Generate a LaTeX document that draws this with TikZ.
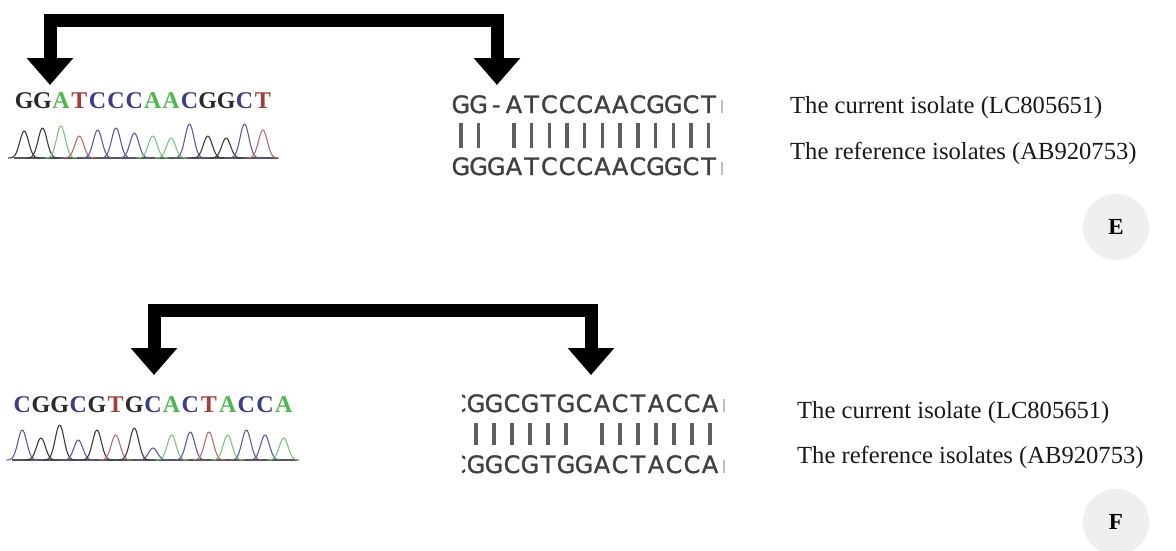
\documentclass[tikz,border=0pt]{standalone}
\usepackage{fontspec}
\setmainfont{Liberation Serif}
\newfontfamily\alnfont[AutoFakeBold=1.2]{DejaVu Sans}
\usetikzlibrary{arrows.meta}

% base-call colours (letters) and trace colours
\definecolor{colG}{HTML}{2A2A2A}
\definecolor{colA}{HTML}{4DB84D}
\definecolor{colT}{HTML}{A63A3A}
\definecolor{colC}{HTML}{3C3C8A}
\definecolor{trG}{HTML}{3A3A3A}
\definecolor{trA}{HTML}{78C878}
\definecolor{trT}{HTML}{C06868}
\definecolor{trC}{HTML}{5A5AA8}
\definecolor{alnink}{HTML}{404040}
\definecolor{barink}{HTML}{5E5E5E}
\definecolor{tagfill}{HTML}{EFEFEF}

\tikzset{
  bracket/.style={line width=13pt, line join=miter,
    {Triangle[width=45pt,length=27pt]}-{Triangle[width=45pt,length=27pt]}},
  chromlet/.style={anchor=base, inner sep=0pt, font=\fontsize{24}{24}\selectfont\bfseries},
  trace/.style={line width=1.1pt, line join=round},
  chromaxis/.style={line width=1.6pt, draw=colG!80},
  alnlet/.style={anchor=base, inner sep=0pt, text=alnink, font=\alnfont\fontsize{24}{24}\selectfont\bfseries},
  matchbar/.style={line width=3.4pt, draw=barink},
  stub/.style={line width=2pt, draw=black!25},
  caption/.style={anchor=base west, inner sep=0pt, text=black!90, font=\fontsize{24.6}{24.6}\selectfont},
  tag/.style={circle, fill=tagfill, minimum size=66pt, inner sep=0pt,
    font=\fontsize{23}{23}\selectfont\bfseries}
}

\begin{document}
\begin{tikzpicture}[x=1pt, y=-1pt]
\useasboundingbox (0,0) rectangle (1176,550);

% ---------------- panel E ----------------
% chromatogram base calls
\foreach \b [count=\i from 0] in {G,G,A,T,C,C,C,A,A,C,G,G,C,T}
  \node[chromlet, text=col\b] (cE\i) at ({24.2+18.36*\i},108) {\b};
% chromatogram traces
\draw[chromaxis] (14,158) -- (278,158);
\foreach \b/\h [count=\i from 0] in {G/27,G/30,A/32,T/22,C/28,C/30,C/25,A/22,A/20,C/34,G/22,G/20,C/34,T/28}
  \draw[trace, draw=tr\b] plot[domain=-16:16, samples=33, smooth]
    ({24.2+18.36*\i+\x}, {158-\h*exp(-1*((\x)/6.2)*((\x)/6.2))});

% pairwise alignment
\foreach \b [count=\i from 0] in {G,G,-,A,T,C,C,C,A,A,C,G,G,C,T}
  \node[alnlet] (aEq\i) at ({460.85+17.7*\i},113) {\b};
\foreach \b [count=\i from 0] in {G,G,G,A,T,C,C,C,A,A,C,G,G,C,T}
  \node[alnlet] (aEr\i) at ({460.85+17.7*\i},175) {\b};
\foreach \i in {0,1,3,4,5,6,7,8,9,10,11,12,13,14}
  \draw[matchbar] ({460.85+17.7*\i},123) -- ({460.85+17.7*\i},148);
\draw[stub] (722,100) -- (722,113);
\draw[stub] (722,162) -- (722,175);

% bracket arrows
\coordinate (tipEL) at (50,85);
\coordinate (cornEL) at (50,20);
\coordinate (cornER) at (497,20);
\coordinate (tipER) at (497,85);
\draw[bracket] (tipEL) -- (cornEL) -- (cornER) -- (tipER);

% captions and panel tag
\node[caption] (curE) at (790,113) {The current isolate (LC805651)};
\node[caption] (refE) at (790,159) {The reference isolates (AB920753)};
\node[tag] (tagE) at (1116,227) {E};

% ---------------- panel F ----------------
\foreach \b [count=\i from 0] in {C,G,G,C,G,T,G,C,A,C,T,A,C,C,A}
  \node[chromlet, text=col\b] (cF\i) at ({22.3+18.67*\i},412) {\b};
\draw[chromaxis] (12,460) -- (298,460);
\foreach \b/\h [count=\i from 0] in {C/30,G/22,G/35,C/20,G/30,T/25,G/32,C/12,A/25,C/28,T/28,A/25,C/30,C/25,A/22}
  \draw[trace, draw=tr\b] plot[domain=-16:16, samples=33, smooth]
    ({22.3+18.67*\i+\x}, {460-\h*exp(-1*((\x)/6.2)*((\x)/6.2))});

\begin{scope}
  \clip (462,380) rectangle (480,480);
  \node[alnlet] (aFq0) at (458,412) {C};
  \node[alnlet] (aFr0) at (458,473) {C};
\end{scope}
\foreach \b [count=\i from 1] in {G,G,C,G,T,G,C,A,C,T,A,C,C,A}
  \node[alnlet] (aFq\i) at ({458+18*\i},412) {\b};
\foreach \b [count=\i from 1] in {G,G,C,G,T,G,G,A,C,T,A,C,C,A}
  \node[alnlet] (aFr\i) at ({458+18*\i},473) {\b};
\foreach \i in {1,2,3,4,5,6,8,9,10,11,12,13,14}
  \draw[matchbar] ({458+18*\i},423) -- ({458+18*\i},445);
\draw[stub] (724,399) -- (724,412);
\draw[stub] (724,460) -- (724,473);

\coordinate (tipFL) at (154,375);
\coordinate (cornFL) at (154,310);
\coordinate (cornFR) at (591,310);
\coordinate (tipFR) at (591,375);
\draw[bracket] (tipFL) -- (cornFL) -- (cornFR) -- (tipFR);

\node[caption] (curF) at (797,418) {The current isolate (LC805651)};
\node[caption] (refF) at (797,463) {The reference isolates (AB920753)};
\node[tag] (tagF) at (1116,522) {F};
\end{tikzpicture}
\end{document}
